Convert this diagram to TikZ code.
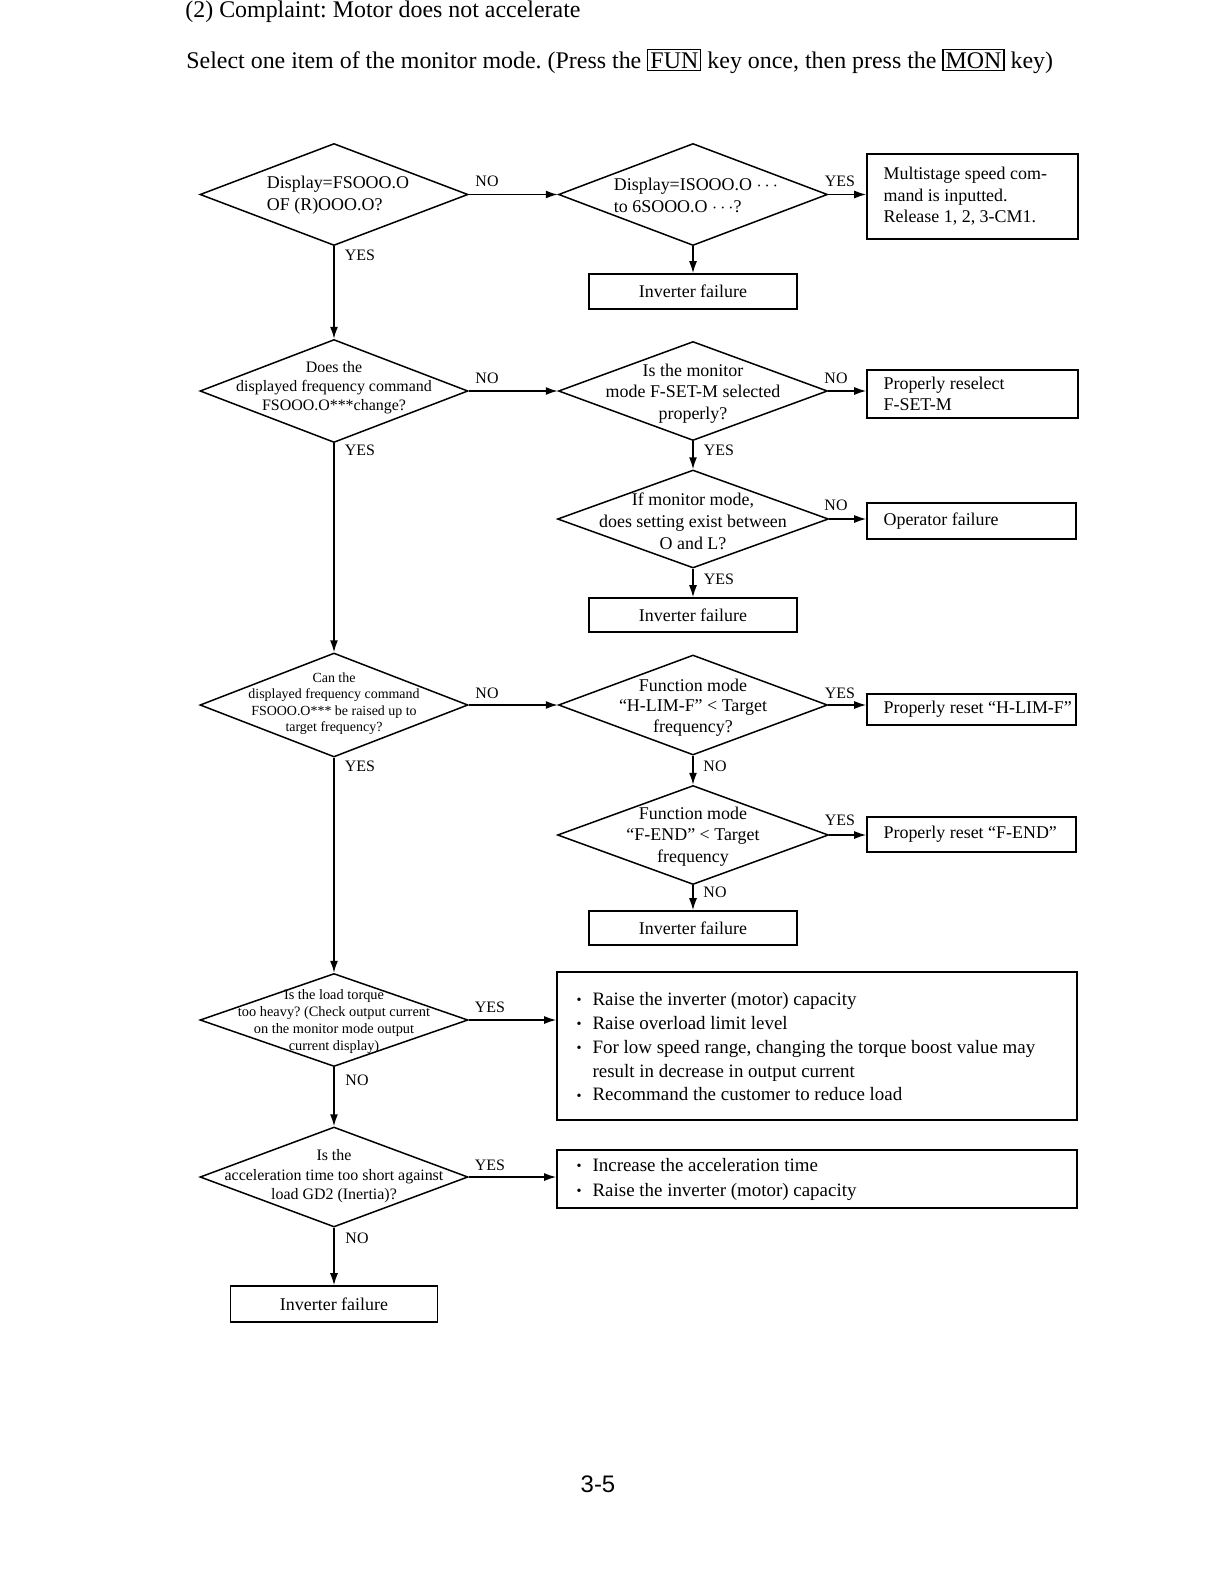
\documentclass[tikz,border=0pt]{standalone}
\usepackage{fontspec}
\usepackage{graphicx}
\setmainfont{Liberation Serif}
\newfontfamily\pagefont{Liberation Sans}
\usetikzlibrary{shapes.geometric,arrows.meta}
\newcommand\setfs[2]{\fontsize{#1}{#2}\selectfont}
\newcommand\keybox[1]{{\setlength{\fboxsep}{1pt}\setlength{\fboxrule}{0.6pt}\fbox{#1}}}
\newcommand\bul{\makebox[8bp][l]{\raisebox{0.1ex}{\scalebox{0.75}{\textbullet}}}}
\frenchspacing
\begin{document}
\begin{tikzpicture}[x=0.5bp,y=-0.5bp,
  dia/.style 2 args={diamond, draw, line width=0.75bp, inner sep=0pt, minimum width=#1, minimum height=#2},
  box/.style 2 args={rectangle, draw, line width=0.8bp, inner sep=0pt, minimum width=#1, minimum height=#2},
  dt/.style={align=center, inner sep=0pt},
  lt/.style={align=left, inner sep=0pt, anchor=west, font=\setfs{9}{10.8}},
  lab/.style={font=\setfs{8}{9}, inner sep=0pt},
  arr/.style={line width=0.75bp, -{Latex[length=6bp,width=4bp]}}]
\fill[white] (0,0) rectangle (1224,1584);
\useasboundingbox (0,0) rectangle (1224,1584);

% header
\node[anchor=base west, inner sep=0pt, font=\setfs{12}{14}] (t1) at (185,17) {(2) Complaint: Motor does not accelerate};
\node[anchor=base west, inner sep=0pt, font=\setfs{12}{14}] (t2) at (186,68) {Select one item of the monitor mode. (Press the \keybox{FUN} key once, then press the \keybox{MON} key)};

% diamonds
\node[dia={134bp}{51bp}] (d1) at (334,194.5) {};
\node[dia={134.5bp}{51bp}] (d2) at (693,194.5) {};
\node[dia={134bp}{51.5bp}] (d3) at (334,391) {};
\node[dia={134.5bp}{49.5bp}] (d4) at (693,391) {};
\node[dia={135.5bp}{49bp}] (d5) at (693,519) {};
\node[dia={134bp}{52bp}] (d6) at (334,705) {};
\node[dia={134.5bp}{50bp}] (d7) at (693,705) {};
\node[dia={135.5bp}{49.5bp}] (d8) at (693,835) {};
\node[dia={134bp}{46.5bp}] (d9) at (334,1020) {};
\node[dia={134bp}{50bp}] (d10) at (334,1177) {};

% diamond texts
\node[dt, align=left, font=\setfs{9}{11}] (d1t) at (338,195) {Display=FSOOO.O\\OF (R)OOO.O?};
\node[dt, align=left, font=\setfs{9}{11}] (d2t) at (696,195) {Display=ISOOO.O $\cdots$\\to 6SOOO.O $\cdots$?};
\node[dt, font=\setfs{8}{9.5}] (d3t) at (334,388) {Does the\\displayed frequency command\\FSOOO.O***change?};
\node[dt, font=\setfs{9}{10.75}] (d4t) at (693,393.5) {Is the monitor\\mode F-SET-M selected\\properly?};
\node[dt, font=\setfs{9}{11}] (d5t) at (693,521) {If monitor mode,\\does setting exist between\\O and L?};
\node[dt, font=\setfs{7}{8.2}] (d6t) at (334,703.5) {Can the\\displayed frequency command\\FSOOO.O*** be raised up to\\target frequency?};
\node[dt, font=\setfs{9}{10.25}] (d7t) at (693,707.5) {Function mode\\“H-LIM-F” < Target\\frequency?};
\node[dt, font=\setfs{9}{10.75}] (d8t) at (693,836.5) {Function mode\\“F-END” < Target\\frequency};
\node[dt, font=\setfs{7.2}{8.5}] (d9t) at (334,1021.5) {Is the load torque\\too heavy? (Check output current\\on the monitor mode output\\current display)};
\node[dt, font=\setfs{8}{9.75}] (d10t) at (334,1176.5) {Is the\\acceleration time too short against\\load GD2 (Inertia)?};

% boxes
\node[box={105.5bp}{42.5bp}] (m1) at (972.5,196.5) {};
\node[lt] (m1t) at ([xshift=8.5bp]m1.west) {Multistage speed com-\\mand is inputted.\\Release 1, 2, 3-CM1.};
\node[box={104bp}{17.5bp}, font=\setfs{9}{10.8}] (inv1) at (693,291.5) {Inverter failure};
\node[box={105.5bp}{24bp}] (r1) at (972.5,394) {};
\node[lt] (r1t) at ([xshift=8.5bp]r1.west) {Properly reselect\\F-SET-M};
\node[box={104.5bp}{18bp}] (op) at (971.5,521) {};
\node[lt] (opt) at ([xshift=8.5bp]op.west) {Operator failure};
\node[box={104bp}{17bp}, font=\setfs{9}{10.8}] (inv2) at (693,615) {Inverter failure};
\node[box={104.5bp}{15.5bp}] (hb) at (971.5,709.5) {};
\node[lt] (hbt) at ([xshift=8.5bp]hb.west) {Properly reset “H-LIM-F”};
\node[box={104.5bp}{17.5bp}] (fe) at (971.5,834.5) {};
\node[lt] (fet) at ([xshift=8.5bp]fe.west) {Properly reset “F-END”};
\node[box={104bp}{17bp}, font=\setfs{9}{10.8}] (inv3) at (693,928) {Inverter failure};
\node[box={260bp}{74bp}] (b1) at (817,1046) {};
\node[lt, font=\setfs{9.5}{12}] (b1t) at ([xshift=10bp,yshift=-0.3bp]b1.west) {\bul Raise the inverter (motor) capacity\\\bul Raise overload limit level\\\bul For low speed range, changing the torque boost value may\\\hspace*{8bp}result in decrease in output current\\\bul Recommand the customer to reduce load};
\node[box={260bp}{29bp}] (b2) at (817,1179) {};
\node[lt, font=\setfs{9.5}{12.5}] (b2t) at ([xshift=10bp,yshift=-0.3bp]b2.west) {\bul Increase the acceleration time\\\bul Raise the inverter (motor) capacity};
\node[box={103.5bp}{18bp}, font=\setfs{9}{10.8}] (inv4) at (334,1304) {Inverter failure};

% connectors
\draw[arr] (d1.east) -- (d2.west);
\draw[arr] (d2.east) -- (d2.east -| m1.west);
\draw[arr] (d2.south) -- (inv1.north);
\draw[arr] (d1.south) -- (d3.north);
\draw[arr] (d3.east) -- (d4.west);
\draw[arr] (d4.east) -- (d4.east -| r1.west);
\draw[arr] (d4.south) -- (d5.north);
\draw[arr] (d5.east) -- (d5.east -| op.west);
\draw[arr] (d5.south) -- (inv2.north);
\draw[arr] (d3.south) -- (d6.north);
\draw[arr] (d6.east) -- (d7.west);
\draw[arr] (d7.east) -- (d7.east -| hb.west);
\draw[arr] (d7.south) -- (d8.north);
\draw[arr] (d8.east) -- (d8.east -| fe.west);
\draw[arr] (d8.south) -- (inv3.north);
\draw[arr] (d6.south) -- (d9.north);
\draw[arr] (d9.east) -- (d9.east -| b1.west);
\draw[arr] (d9.south) -- (d10.north);
\draw[arr] (d10.east) -- (d10.east -| b2.west);
\draw[arr] (d10.south) -- (inv4.north);

% labels
\node[lab] (l1) at (487,181) {NO};
\node[lab] (l2) at (840,181) {YES};
\node[lab] (l3) at (360,255) {YES};
\node[lab] (l4) at (487,378) {NO};
\node[lab] (l5) at (836,378) {NO};
\node[lab] (l6) at (719,450) {YES};
\node[lab] (l7) at (836,505) {NO};
\node[lab] (l8) at (719,579) {YES};
\node[lab] (l9) at (360,450) {YES};
\node[lab] (l10) at (487,693) {NO};
\node[lab] (l11) at (840,693) {YES};
\node[lab] (l12) at (715,766) {NO};
\node[lab] (l13) at (840,820) {YES};
\node[lab] (l14) at (715,892) {NO};
\node[lab] (l15) at (360,766) {YES};
\node[lab] (l16) at (490,1007) {YES};
\node[lab] (l17) at (357,1080) {NO};
\node[lab] (l18) at (490,1165) {YES};
\node[lab] (l19) at (357,1238) {NO};

% page number
\node[inner sep=0pt, font=\pagefont\setfs{12}{14}] (pg) at (598,1484) {3-5};
\end{tikzpicture}
\end{document}
